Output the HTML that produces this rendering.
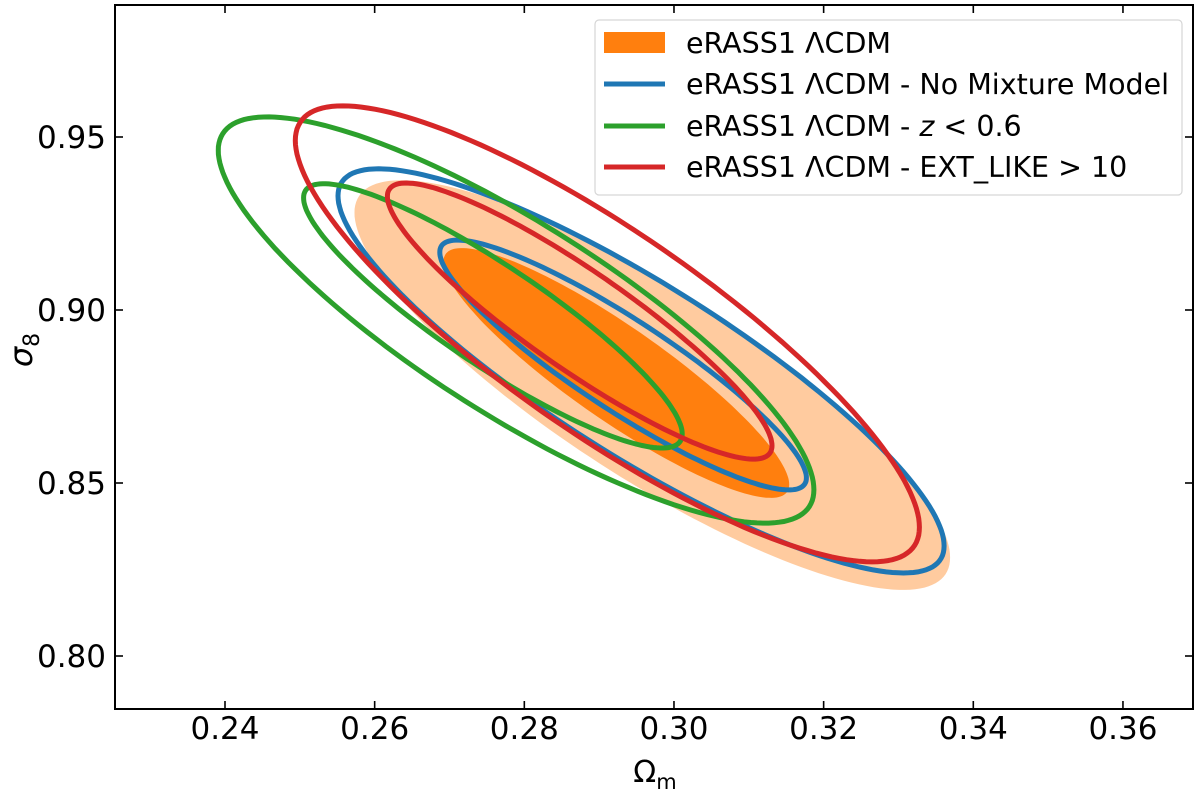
<!DOCTYPE html>
<html><head><meta charset="utf-8"><style>
body{margin:0;background:#fff}
svg{display:block;font-family:"DejaVu Sans","Liberation Sans",sans-serif}
</style></head><body>
<svg id="chart" width="1200" height="795" viewBox="0 0 1200 795">
<g id="marks"></g>
<g id="axes"></g>
<g id="legend"></g>
</svg>
<script>
const xTicks=[0.24,0.26,0.28,0.30,0.32,0.34,0.36];
const yTicks=[0.80,0.85,0.90,0.95];
// contour params: [cx, cy, halfX, halfY, sinPhi]
const orange2=[0.2971,0.8783,0.0398,0.0592,0.54];
const orange1=[0.2923,0.8818,0.0231,0.0361,0.45];
const blue2=[0.2956,0.8824,0.0405,0.0584,0.50];
const blue1=[0.2932,0.8841,0.0245,0.0361,0.43];
const green2=[0.2789,0.8971,0.0398,0.0587,0.55];
const green1=[0.2758,0.8983,0.0253,0.0382,0.45];
const red2=[0.2911,0.8931,0.0417,0.0659,0.53];
const red1=[0.2874,0.8968,0.0257,0.0399,0.43];
const legendLabels=["eRASS1 ΛCDM","eRASS1 ΛCDM - No Mixture Model","eRASS1 ΛCDM - z < 0.6","eRASS1 ΛCDM - EXT_LIKE > 10"];

const L=115,R=1193,T=5,B=709;
const X=v=>225+(v-0.24)*7483;
const Y=v=>137-(v-0.95)*3460;
const NS="http://www.w3.org/2000/svg";
function mk(tag,attrs,parent){const e=document.createElementNS(NS,tag);for(const k in attrs)e.setAttribute(k,attrs[k]);parent.appendChild(e);return e;}
function pathOf(p){const[cx,cy,hx,hy,s]=p;const phi=Math.PI-Math.asin(s);let d="";
 for(let i=0;i<=180;i++){const t=i/180*2*Math.PI;const x=X(cx+hx*Math.cos(t)),y=Y(cy+hy*Math.cos(t-phi));d+=(i?"L":"M")+x.toFixed(1)+","+y.toFixed(1);}return d+"Z";}
const marks=document.getElementById('marks');
let e;
e=mk('path',{d:pathOf(orange2),fill:'#ffcb9f'},marks);


e=mk('path',{d:pathOf(orange1),fill:'#ff7f0e'},marks);


const lines=[[blue2,'#1f77b4','no-mixture-2sigma'],[blue1,'#1f77b4','no-mixture-1sigma'],[green2,'#2ca02c','z-cut-2sigma'],[green1,'#2ca02c','z-cut-1sigma'],[red2,'#d62728','ext-like-2sigma'],[red1,'#d62728','ext-like-1sigma']];
lines.forEach(l=>{e=mk('path',{d:pathOf(l[0]),fill:'none',stroke:l[1],'stroke-width':5},marks);
 
 });
const ax=document.getElementById('axes');
e=mk('rect',{x:L,y:T,width:R-L,height:B-T,fill:'none',stroke:'#000','stroke-width':2},ax);


xTicks.forEach(v=>{const x=X(v);
 mk('line',{x1:x,y1:B,x2:x,y2:B-8,stroke:'#000','stroke-width':1.6},ax);
 mk('line',{x1:x,y1:T,x2:x,y2:T+8,stroke:'#000','stroke-width':1.6},ax);
 e=mk('text',{x:x,y:739,'font-size':31,'text-anchor':'middle'},ax);e.textContent=v.toFixed(2);
 
 });
yTicks.forEach(v=>{const y=Y(v);
 mk('line',{x1:L,y1:y,x2:L+8,y2:y,stroke:'#000','stroke-width':1.6},ax);
 mk('line',{x1:R,y1:y,x2:R-8,y2:y,stroke:'#000','stroke-width':1.6},ax);
 e=mk('text',{x:106,y:y+11,'font-size':31,'text-anchor':'end'},ax);e.textContent=v.toFixed(2);
 
 });
e=mk('text',{x:655,y:782,'font-size':30,'text-anchor':'middle'},ax);
e.innerHTML='Ω<tspan font-size="21" dy="7">m</tspan>';


e=mk('text',{x:0,y:0,'font-size':32,'font-style':'italic','text-anchor':'middle',transform:'translate(32,350) rotate(-90)'},ax);
e.innerHTML='σ<tspan font-size="22" font-style="normal" dy="7">8</tspan>';


const lg=document.getElementById('legend');
e=mk('rect',{x:595,y:20,width:587,height:175,rx:4,fill:'#fff','fill-opacity':0.85,stroke:'#d6d6d6','stroke-width':1.2},lg);


const rowsY=[43,84,126,167];const cols=['#ff7f0e','#1f77b4','#2ca02c','#d62728'];
legendLabels.forEach((lab,i)=>{const y=rowsY[i];
 if(i===0){mk('rect',{x:604,y:y-11,width:61,height:21,fill:'#ff7f0e'},lg);}
 else mk('line',{x1:604,y1:y,x2:665,y2:y,stroke:cols[i],'stroke-width':5},lg);
 e=mk('text',{x:686,y:y+10,'font-size':28.5},lg);
 if(i===2){e.innerHTML='eRASS1 ΛCDM - <tspan font-style="italic">z</tspan> &lt; 0.6';}else e.textContent=lab;
 
 });
</script>
</body></html>
